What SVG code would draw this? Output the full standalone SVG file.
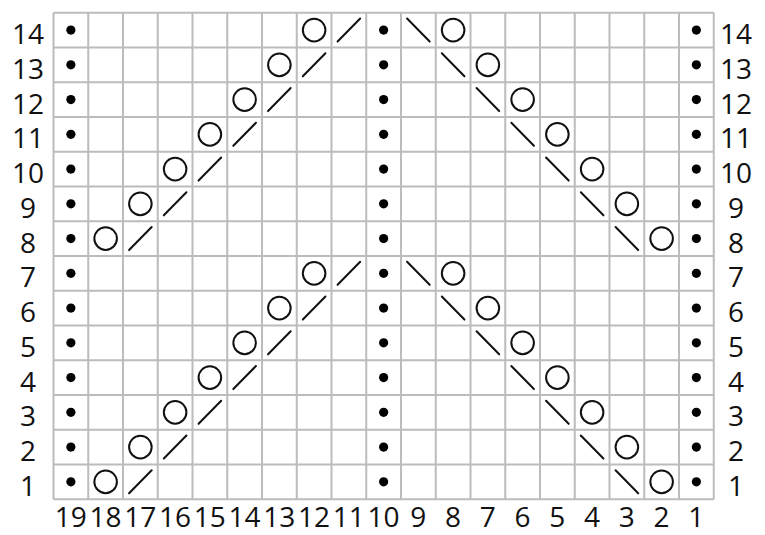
<svg xmlns="http://www.w3.org/2000/svg" xmlns:xlink="http://www.w3.org/1999/xlink" width="765" height="535" viewBox="0 0 765 535">
<style>
.grid{fill:none;stroke:#bcbcbc;stroke-width:2}
.lbl{font-family:"Open Sans","Noto Sans","DejaVu Sans",sans-serif;font-size:28px;fill:#111;text-anchor:middle}
.sym{fill:none;stroke:#111;stroke-width:2;stroke-linecap:round}
</style>
<defs>
<circle id="dot" r="4.6" fill="#000"/>
<circle id="yo" r="11.3" class="sym"/>
<line id="k2tog" x1="-11.3" y1="11.5" x2="11.3" y2="-11.5" class="sym"/>
<line id="ssk" x1="-11.3" y1="-11.5" x2="11.3" y2="11.5" class="sym"/>
<g id="dotcol">
<use href="#dot" y="30.075"/><use href="#dot" y="64.825"/><use href="#dot" y="99.575"/><use href="#dot" y="134.325"/><use href="#dot" y="169.075"/><use href="#dot" y="203.825"/><use href="#dot" y="238.575"/><use href="#dot" y="273.325"/><use href="#dot" y="308.075"/><use href="#dot" y="342.825"/><use href="#dot" y="377.575"/><use href="#dot" y="412.325"/><use href="#dot" y="447.075"/><use href="#dot" y="481.825"/>
</g>
</defs>
<rect width="765" height="535" fill="#fff"/>
<g id="grid">
<path class="grid" d="M53.5 12.7V499.2M88.25 12.7V499.2M123 12.7V499.2M157.75 12.7V499.2M192.5 12.7V499.2M227.25 12.7V499.2M262 12.7V499.2M296.75 12.7V499.2M331.5 12.7V499.2M366.25 12.7V499.2M401 12.7V499.2M435.75 12.7V499.2M470.5 12.7V499.2M505.25 12.7V499.2M540 12.7V499.2M574.75 12.7V499.2M609.5 12.7V499.2M644.25 12.7V499.2M679 12.7V499.2M713.75 12.7V499.2M53.5 12.7H713.75M53.5 47.45H713.75M53.5 82.2H713.75M53.5 116.95H713.75M53.5 151.7H713.75M53.5 186.45H713.75M53.5 221.2H713.75M53.5 255.95H713.75M53.5 290.7H713.75M53.5 325.45H713.75M53.5 360.2H713.75M53.5 394.95H713.75M53.5 429.7H713.75M53.5 464.45H713.75M53.5 499.2H713.75"/>
</g>
<g id="purl-columns">
<use href="#dotcol" x="70.875"/>
<use href="#dotcol" x="383.625"/>
<use href="#dotcol" x="696.375"/>
</g>
<g id="motif-rows-1-7">
<use href="#yo" x="105.625" y="481.825"/><use href="#k2tog" x="140.375" y="481.825"/><use href="#ssk" x="626.875" y="481.825"/><use href="#yo" x="661.625" y="481.825"/>
<use href="#yo" x="140.375" y="447.075"/><use href="#k2tog" x="175.125" y="447.075"/><use href="#ssk" x="592.125" y="447.075"/><use href="#yo" x="626.875" y="447.075"/>
<use href="#yo" x="175.125" y="412.325"/><use href="#k2tog" x="209.875" y="412.325"/><use href="#ssk" x="557.375" y="412.325"/><use href="#yo" x="592.125" y="412.325"/>
<use href="#yo" x="209.875" y="377.575"/><use href="#k2tog" x="244.625" y="377.575"/><use href="#ssk" x="522.625" y="377.575"/><use href="#yo" x="557.375" y="377.575"/>
<use href="#yo" x="244.625" y="342.825"/><use href="#k2tog" x="279.375" y="342.825"/><use href="#ssk" x="487.875" y="342.825"/><use href="#yo" x="522.625" y="342.825"/>
<use href="#yo" x="279.375" y="308.075"/><use href="#k2tog" x="314.125" y="308.075"/><use href="#ssk" x="453.125" y="308.075"/><use href="#yo" x="487.875" y="308.075"/>
<use href="#yo" x="314.125" y="273.325"/><use href="#k2tog" x="348.875" y="273.325"/><use href="#ssk" x="418.375" y="273.325"/><use href="#yo" x="453.125" y="273.325"/>
</g>
<g id="motif-rows-8-14">
<use href="#motif-rows-1-7" transform="translate(0,-243.25)"/>
</g>
<g id="row-labels-left" class="lbl">
<text x="28" y="44.1">14</text><text x="28" y="78.8">13</text><text x="28" y="113.6">12</text><text x="28" y="148.3">11</text><text x="28" y="183.1">10</text><text x="28" y="217.8">9</text><text x="28" y="252.6">8</text><text x="28" y="287.3">7</text><text x="28" y="322.1">6</text><text x="28" y="356.8">5</text><text x="28" y="391.6">4</text><text x="28" y="426.3">3</text><text x="28" y="461.1">2</text><text x="28" y="495.8">1</text>
</g>
<g id="row-labels-right" class="lbl">
<text x="736" y="44.1">14</text><text x="736" y="78.8">13</text><text x="736" y="113.6">12</text><text x="736" y="148.3">11</text><text x="736" y="183.1">10</text><text x="736" y="217.8">9</text><text x="736" y="252.6">8</text><text x="736" y="287.3">7</text><text x="736" y="322.1">6</text><text x="736" y="356.8">5</text><text x="736" y="391.6">4</text><text x="736" y="426.3">3</text><text x="736" y="461.1">2</text><text x="736" y="495.8">1</text>
</g>
<g id="column-labels" class="lbl">
<text x="70.875" y="527">19</text><text x="105.625" y="527">18</text><text x="140.375" y="527">17</text><text x="175.125" y="527">16</text><text x="209.875" y="527">15</text><text x="244.625" y="527">14</text><text x="279.375" y="527">13</text><text x="314.125" y="527">12</text><text x="348.875" y="527">11</text><text x="383.625" y="527">10</text><text x="418.375" y="527">9</text><text x="453.125" y="527">8</text><text x="487.875" y="527">7</text><text x="522.625" y="527">6</text><text x="557.375" y="527">5</text><text x="592.125" y="527">4</text><text x="626.875" y="527">3</text><text x="661.625" y="527">2</text><text x="696.375" y="527">1</text>
</g>
</svg>
